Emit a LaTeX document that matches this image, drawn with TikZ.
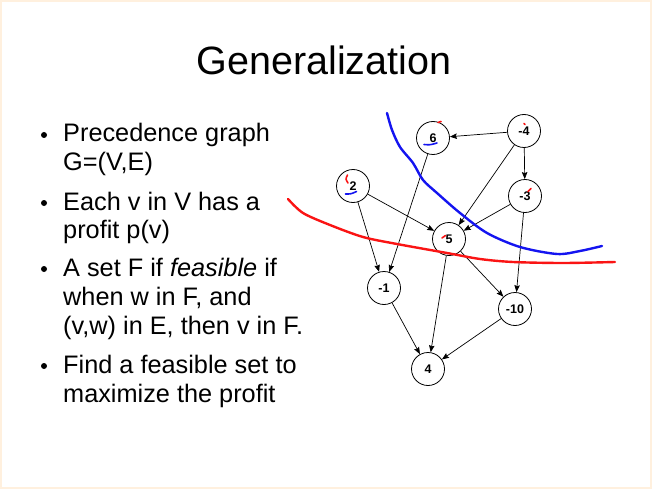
\documentclass[tikz,border=0pt]{standalone}
\usepackage{fontspec}
\setmainfont{Liberation Sans}
\usetikzlibrary{arrows.meta}

\definecolor{slideedge}{RGB}{255,240,222}
\definecolor{penred}{RGB}{250,20,20}
\definecolor{penblue}{RGB}{20,20,240}

\begin{document}
\begin{tikzpicture}[x=1pt, y=-1pt]
\tikzstyle{vertex} = [draw, circle, line width = 0.8pt, minimum size = 33pt, inner sep = 0pt, font = \bfseries\fontsize{12.5}{14}\selectfont]
\tikzstyle{line} = [anchor = base west, inner sep = 0pt, font = \fontsize{25.3}{29}\selectfont]
\tikzstyle{edge} = [line width = 0.7pt, -{Stealth[length = 7pt, width = 5.5pt, inset = 1pt]}]
\tikzstyle{pen} = [line width = 2.4pt, line cap = round, line join = round]
\tikzstyle{tick} = [line width = 1.6pt, line cap = round]

\useasboundingbox (0, 0) rectangle (652, 489);
\draw[slideedge, line width = 2pt] (1, 1) rectangle (651, 488);

\node[anchor = base, inner sep = 0pt, font = \fontsize{39.5}{44}\selectfont] (title) at (324, 75) {Generalization};

% bullets
\fill (44, 135) circle (3);
\fill (44, 203) circle (3);
\fill (44, 269) circle (3);
\fill (44, 366) circle (3);

\node[line] (l1) at (63, 142) {Precedence graph};
\node[line] (l2) at (63, 171) {G=(V,E)};
\node[line] (l3) at (63, 210) {Each v in V has a};
\node[line] (l4) at (63, 238) {profit p(v)};
\node[line] (l5) at (63, 276) {A set F if \textit{feasible} if};
\node[line] (l6) at (63, 305) {when w in F, and};
\node[line] (l7) at (63, 334) {(v,w) in E, then v in F.};
\node[line] (l8) at (63, 373) {Find a feasible set to};
\node[line] (l9) at (63, 402) {maximize the profit};

% the graph
\node[vertex] (1) at (433, 138) {6};
\node[vertex] (2) at (524, 131) {-4};
\node[vertex] (3) at (353, 186) {2};
\node[vertex] (4) at (525, 196) {-3};
\node[vertex] (5) at (449, 239) {5};
\node[vertex] (6) at (384, 288) {-1};
\node[vertex] (7) at (515, 309) {-10};
\node[vertex] (8) at (428, 369) {4};

\draw[edge] (2) -- (1);
\draw[edge] (2) -- (4);
\draw[edge] (2) -- (5);
\draw[edge] (4) -- (5);
\draw[edge] (4) -- (7);
\draw[edge] (1) -- (6);
\draw[edge] (3) -- (5);
\draw[edge] (3) -- (6);
\draw[edge] (5) -- (7);
\draw[edge] (5) -- (8);
\draw[edge] (6) -- (8);
\draw[edge] (7) -- (8);

% pen strokes
\draw[pen, penred] plot[smooth] coordinates {(288, 199) (303, 213) (330, 225) (363, 237) (397, 244) (447, 253) (480, 259) (513, 262) (563, 263) (615, 262)};
\draw[pen, penblue] plot[smooth] coordinates {(387, 113) (392, 130) (400, 147) (413, 163) (423, 180) (437, 193) (460, 213) (487, 233) (520, 247) (557, 254) (580, 251) (602, 246)};

\draw[tick, penred] (438, 122.5) -- (441, 121.5);
\draw[tick, penred] (524, 123.5) -- (525, 124.5);
\draw[tick, penred] (528, 191.5) -- (531, 188.5);
\draw[tick, penred] (442, 238) -- (445.5, 235.5);
\draw[tick, penred] (347.5, 175) .. controls (345.5, 179) .. (348, 183);
\draw[tick, penblue] (424, 144.5) .. controls (430, 145) .. (437, 143);
\draw[tick, penblue] (345.5, 194) .. controls (351, 194) .. (356.5, 191.5);
\end{tikzpicture}
\end{document}
